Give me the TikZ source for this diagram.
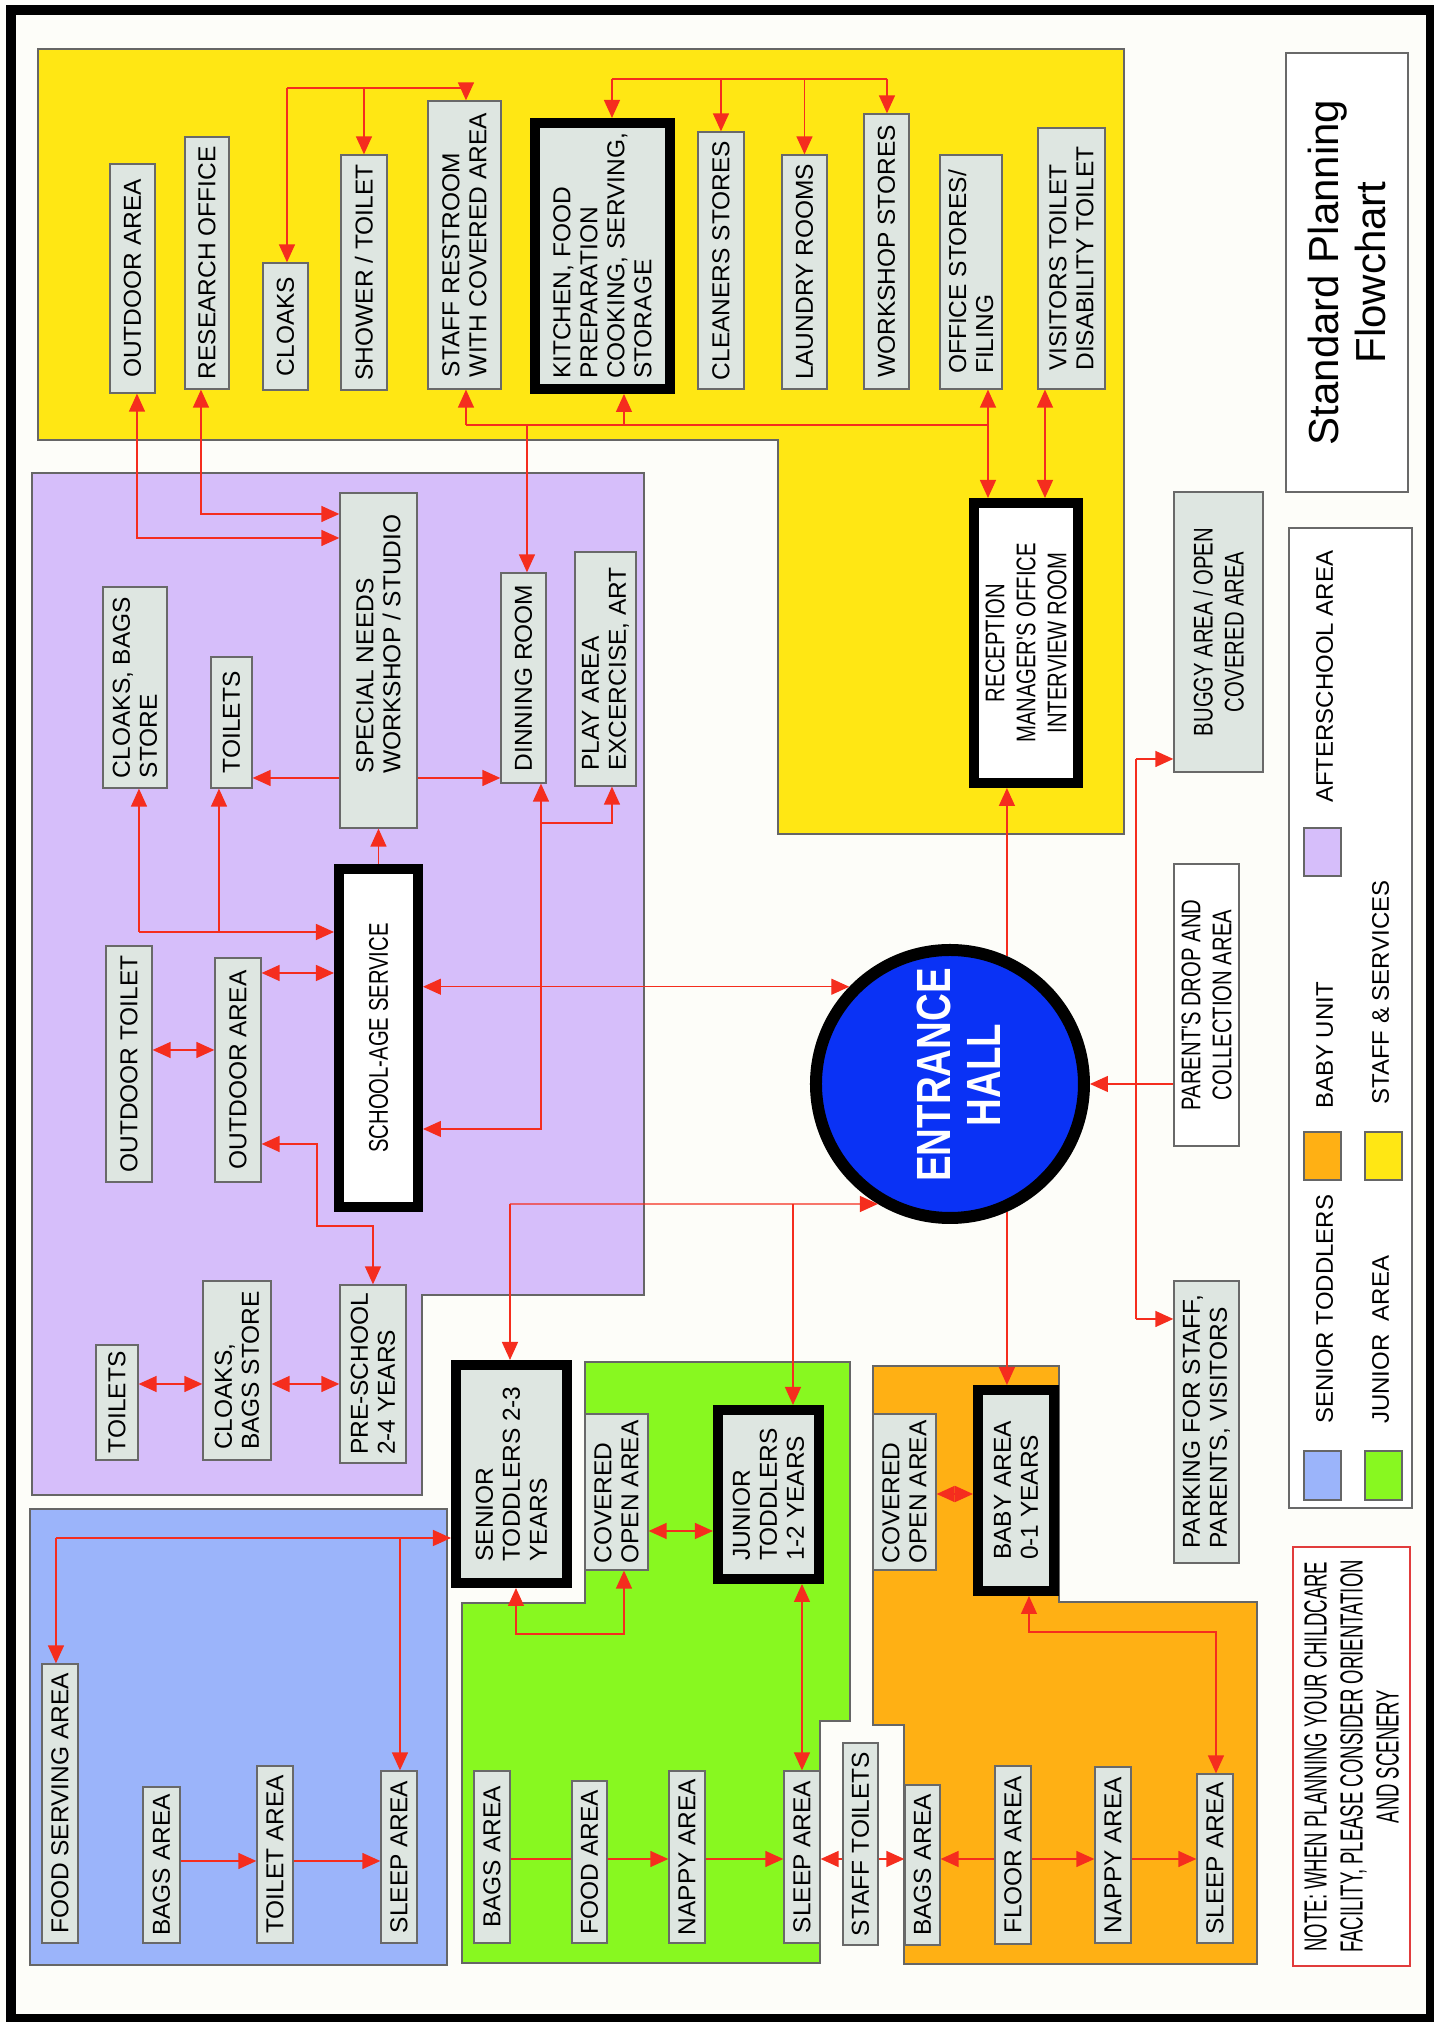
\documentclass[tikz,border=0pt]{standalone}
\usepackage{fontspec}
\setmainfont{Liberation Sans}
\newfontfamily\narrowfont[FakeStretch=0.75]{Liberation Sans}
\newfontfamily\hallfont[FakeStretch=0.8]{Liberation Sans}
\newfontfamily\notefont[FakeStretch=0.58]{Liberation Sans}
\usetikzlibrary{arrows.meta}
\definecolor{pagebg}{RGB}{253,253,249}
\definecolor{staffyel}{RGB}{255,231,20}
\definecolor{afterlil}{RGB}{214,190,250}
\definecolor{seniorblu}{RGB}{155,180,250}
\definecolor{juniorgrn}{RGB}{136,248,32}
\definecolor{babyorg}{RGB}{255,176,20}
\definecolor{roomgray}{RGB}{222,230,225}
\definecolor{hallblue}{RGB}{10,50,245}
\definecolor{linkred}{RGB}{245,45,30}
\definecolor{edgegray}{RGB}{105,105,105}
\definecolor{notered}{RGB}{225,60,60}
\newcommand{\roomfont}{\fontsize{24.5}{27}\selectfont}
\newcommand{\narrowtxt}{\narrowfont\fontsize{27}{31}\selectfont}
\tikzset{
  room/.style={draw=edgegray, fill=roomgray, line width=1.3, inner sep=0, align=left, font=\roomfont},
  hub/.style={room, draw=black, line width=10},
  sz/.style 2 args={minimum width=#1, minimum height=#2},
  zone/.style={draw=black!60, line width=1.1},
  lnk/.style={draw=linkred, line width=1.4},
  arr/.style={lnk, -{Triangle[length=18pt,width=16pt]}},
  arrs/.style={lnk, {Triangle[length=18pt,width=16pt]}-{Triangle[length=18pt,width=16pt]}},
  keytxt/.style={anchor=base west, inner sep=0, font=\fontsize{24}{27}\selectfont}
}
\begin{document}
\begin{tikzpicture}[x=1pt, y=1pt, rotate=90, transform shape]
\useasboundingbox (0,0) rectangle (2022,1433);
\fill[pagebg] (0,0) rectangle (2022,1433);
\draw[line width=10] (3,2) rectangle (2012,1422);

\filldraw[zone, fill=staffyel] (1973,1395) -- (1973,309) -- (1188,309) -- (1188,655) -- (1582,655) -- (1582,1395) -- cycle;
\filldraw[zone, fill=afterlil] (1549,1401) -- (1549,789) -- (727,789) -- (727,1011) -- (527,1011) -- (527,1401) -- cycle;
\filldraw[zone, fill=seniorblu] (57,986) rectangle (513,1403);
\filldraw[zone, fill=juniorgrn] (660,848) -- (660,583) -- (301,583) -- (301,613) -- (59,613) -- (59,971) -- (419,971) -- (419,848) -- cycle;
\filldraw[zone, fill=babyorg] (656,560) -- (656,374) -- (420,374) -- (420,176) -- (58,176) -- (58,529) -- (297,529) -- (297,560) -- cycle;

\node[room, sz={229}{45}] (oaY) at (1743.5,1300.5) {OUTDOOR AREA};
\node[room, sz={252}{44}] (res) at (1759,1226) {RESEARCH OFFICE};
\node[room, sz={127}{45}] (clk) at (1695.5,1147.5) {CLOAKS};
\node[room, sz={235}{46}] (shw) at (1749.5,1069) {SHOWER / TOILET};
\node[room, sz={288}{73}] (srr) at (1777,968.5) {STAFF RESTROOM\\WITH COVERED AREA};
\node[hub, sz={266}{135}] (kit) at (1766,830.5) {KITCHEN, FOOD\\PREPARATION\\COOKING, SERVING,\\STORAGE};
\node[room, sz={257}{46}] (cln) at (1761.5,712) {CLEANERS STORES};
\node[room, sz={234}{45}] (lau) at (1750,628.5) {LAUNDRY ROOMS};
\node[room, sz={275}{45}] (wks) at (1770.5,546.5) {WORKSHOP STORES};
\node[room, sz={234}{62}] (ofs) at (1750,462) {OFFICE STORES/\\FILING};
\node[room, sz={261}{67}] (vis) at (1763.5,361.5) {VISITORS TOILET\\DISABILITY TOILET};
\node[hub, fill=white, align=center, font=\narrowtxt, sz={280}{104}] (rec) at (1379,407) {RECEPTION\\MANAGER'S OFFICE\\INTERVIEW ROOM};

\node[room, sz={201}{64}] (pcb) at (1334.5,1298) {CLOAKS, BAGS\\STORE};
\node[room, sz={131}{41}] (ptl) at (1299.5,1201.5) {TOILETS};
\node[room, sz={335}{77}] (spn) at (1361.5,1054.5) {\hspace*{33pt}SPECIAL NEEDS\\\hspace*{33pt}WORKSHOP / STUDIO};
\node[room, sz={210}{45}] (din) at (1344,909.5) {DINNING ROOM};
\node[room, sz={234}{61}] (ply) at (1353,827.5) {PLAY AREA\\EXCERCISE, ART};
\node[hub, fill=white, font=\narrowtxt, sz={338}{79}] (sas) at (984,1054.5) {SCHOOL-AGE SERVICE};
\node[room, sz={236}{46}] (otl) at (958,1304) {OUTDOOR TOILET};
\node[room, sz={224}{46}] (oaP) at (952,1195) {OUTDOOR AREA};
\node[room, sz={115}{42}] (ltl) at (619.5,1316) {TOILETS};
\node[room, sz={179}{68}] (lcb) at (651.5,1196) {CLOAKS,\\BAGS STORE};
\node[room, sz={178}{66}] (pre) at (648,1060) {PRE-SCHOOL\\2-4 YEARS};

\node[room, sz={279}{36}] (fsa) at (218.5,1373) {FOOD SERVING AREA};
\node[room, sz={156}{37}] (bBg) at (157,1271.5) {BAGS AREA};
\node[room, sz={177}{36}] (bTl) at (167.5,1158) {TOILET AREA};
\node[room, sz={172}{36}] (bSl) at (165,1034) {SLEEP AREA};
\node[hub, sz={218}{111}] (sen) at (548,921.5) {SENIOR\\TODDLERS 2-3\\YEARS};

\node[room, sz={156}{63}] (gCv) at (530,816.5) {COVERED\\OPEN AREA};
\node[hub, sz={169}{101}] (jun) at (527.5,664.5) {JUNIOR\\TODDLERS\\1-2 YEARS};
\node[room, sz={172}{36}] (gBg) at (165,941) {BAGS AREA};
\node[room, sz={162}{35}] (gFd) at (160,843.5) {FOOD AREA};
\node[room, sz={172}{36}] (gNp) at (165,746) {NAPPY AREA};
\node[room, sz={172}{36}] (gSl) at (165,631) {SLEEP AREA};
\node[room, sz={202}{35}] (stt) at (178,572.5) {STAFF TOILETS};

\node[room, sz={156}{63}] (oCv) at (530,528.5) {COVERED\\OPEN AREA};
\node[hub, sz={201}{76}] (bab) at (531.5,417) {BABY AREA\\0-1 YEARS};
\node[room, sz={160}{35}] (oBg) at (157,510.5) {BAGS AREA};
\node[room, sz={178}{36}] (oFl) at (167,420) {FLOOR AREA};
\node[room, sz={176}{36}] (oNp) at (167,320) {NAPPY AREA};
\node[room, sz={169}{36}] (oSl) at (163.5,218) {SLEEP AREA};

\node[circle, fill=hallblue, draw=black, line width=12, minimum size=268, inner sep=0, text=white, align=center, font=\hallfont\bfseries\fontsize{48}{50}\selectfont] (ent) at (938,483) {\rule{0pt}{51pt}\hspace*{18pt}ENTRANCE\\\hspace*{18pt}HALL};

\node[room, align=center, font=\narrowtxt, sz={280}{89}] (bug) at (1390,214.5) {BUGGY AREA / OPEN\\COVERED AREA};
\node[room, fill=white, align=center, font=\narrowtxt, sz={282}{65}] (pdr) at (1017,226.5) {PARENT'S DROP AND\\COLLECTION AREA};
\node[room, sz={282}{65}] (prk) at (600,226.5) {PARKING FOR STAFF,\\PARENTS, VISITORS};

\node[draw=edgegray, fill=white, line width=1.5, align=center, font=\fontsize{42}{47}\selectfont, sz={439}{122}] (ttl) at (1749.5,86) {Standard Planning\\Flowchart};
\node[draw=notered, fill=white, line width=1.5, align=center, font=\notefont\fontsize{32}{36}\selectfont, sz={419}{117}] (note) at (265.5,81.5) {NOTE: WHEN PLANNING YOUR CHILDCARE\\FACILITY, PLEASE CONSIDER ORIENTATION\\AND SCENERY};

\node[draw=edgegray, fill=white, line width=1.5, sz={980}{123}] (leg) at (1004,82.5) {};
\filldraw[draw=black!60, line width=1.2, fill=seniorblu] (522,92) rectangle (571,129);
\filldraw[draw=black!60, line width=1.2, fill=juniorgrn] (522,31) rectangle (571,68);
\filldraw[draw=black!60, line width=1.2, fill=babyorg] (842,92) rectangle (890,129);
\filldraw[draw=black!60, line width=1.2, fill=staffyel] (842,31) rectangle (890,68);
\filldraw[draw=black!60, line width=1.2, fill=afterlil] (1146,92) rectangle (1194,129);
\node[keytxt] (kSen) at (598,100) {SENIOR TODDLERS};
\node[keytxt] (kJun) at (598,44) {JUNIOR\ \ AREA};
\node[keytxt] (kBab) at (913,100) {BABY UNIT};
\node[keytxt] (kStf) at (917,44) {STAFF \& SERVICES};
\node[keytxt] (kAft) at (1219,100) {AFTERSCHOOL AREA};

\coordinate (ta) at (1934,1146);
\coordinate (tb) at (1934,967);
\draw[lnk] (ta) to (tb);
\draw[arr] (ta) to (clk.east |- ta);
\draw[arr] (ta |- shw) to (shw.east);
\draw[arr] (tb) to (srr.east |- tb);
\coordinate (tc) at (1943,821);
\coordinate (td) at (1943,546);
\draw[lnk] (tc) to (td);
\draw[arr] (tc) to (kit.east |- tc);
\draw[arr] (tc |- cln) to (cln.east);
\draw[arr] (tc |- lau) to (lau.east);
\draw[arr] (td) to (wks.east |- td);

\coordinate (ya) at (1597,967);
\coordinate (yb) at (1597,445);
\coordinate (yk) at (1597,809);
\coordinate (yd) at (1597,906);
\coordinate (yv) at (1580,388);
\draw[lnk] (ya) to (yb);
\draw[arr] (ya) to (srr.west |- ya);
\draw[arr] (yk) to (kit.west |- yk);
\draw[arr] (yd) to (din.east |- yd);
\draw[arrs] (ofs.west |- yb) to (rec.east |- yb);
\draw[arrs] (vis.west |- yv) to (rec.east |- yv);

\coordinate (sa) at (1484,1296);
\coordinate (sb) at (1508,1232);
\draw[arrs] (oaY.west |- sa) -- (sa) -- (sa |- spn.north);
\draw[arrs] (res.west |- sb) -- (sb) -- (sb |- spn.north);
\coordinate (sc) at (1244,1100);
\draw[arr] (sc |- spn.north) to (sc |- ptl.south);
\draw[arr] (sc |- spn.south) to (sc |- din.north);
\draw[arr] (sas.east) to (spn.west);
\coordinate (sd) at (1090,1294);
\coordinate (se) at (1090,1214);
\draw[arr] (sd) to (sd |- sas.north);
\draw[arr] (sd) to (pcb.west |- sd);
\draw[arr] (se) to (ptl.west |- se);
\coordinate (sf) at (1049,1140);
\draw[arrs] (sf |- oaP.south) to (sf |- sas.north);
\coordinate (sg) at (972,1250);
\draw[arrs] (sg |- otl.south) to (sg |- oaP.north);
\coordinate (sh) at (878,1116);
\coordinate (si) at (796,1116);
\draw[arrs] (sh |- oaP.south) -- (sh) -- (si) -- (si |- pre.east) -- (pre.east);
\draw[arrs] (ent.46 |- sas.south) to (ent.46);
\coordinate (sj) at (893,892);
\coordinate (sk) at (1199,892);
\coordinate (sl) at (1199,821);
\draw[arrs] (sj |- sas.south) -- (sj) -- (din.west |- sj);
\draw[arr] (sk) -- (sl) -- (ply.west |- sl);
\coordinate (sm) at (638,1260);
\draw[arrs] (sm |- ltl.south) to (sm |- lcb.north);
\draw[arrs] (sm |- lcb.south) to (sm |- pre.north);

\coordinate (ea) at (818,923);
\coordinate (eb) at (818,640);
\draw[arr] (ea) to (ent.149);
\draw[arr] (ea) to (sen.east |- ea);
\draw[arr] (eb) to (jun.east |- eb);
\draw[arr] (ent.204) to (bab.east |- ent.204);
\draw[arr] (ent.336) to (rec.west |- ent.336);
\draw[arr] (ent |- pdr.north) to (ent.south);
\coordinate (pa) at (1263,297);
\coordinate (pb) at (703,297);
\draw[lnk] (pa) to (pb);
\draw[arr] (pa) to (pa |- bug.north);
\draw[arr] (pb) to (pb |- prk.north);

\coordinate (ga) at (388,917);
\coordinate (gb) at (388,809);
\draw[arrs] (sen.west |- ga) -- (ga) -- (gb) -- (gCv.west |- gb);
\coordinate (gc) at (491,750);
\draw[arrs] (gc |- gCv.south) to (gc |- jun.north);
\draw[arrs] (jun.west |- gSl) to (gSl.east);
\coordinate (gd) at (163,800);
\draw[lnk] (gd |- gBg.south) to (gd |- gFd.north);
\draw[arr] (gd |- gFd.south) to (gd |- gNp.north);
\draw[arr] (gd |- gNp.south) to (gd |- gSl.north);
\draw[arr] (gd |- stt.north) to (gd |- gSl.south);
\draw[arr] (gd |- stt.south) to (gd |- oBg.north);
\draw[arr] (gd |- oFl.north) to (gd |- oBg.south);
\draw[arr] (gd |- oFl.south) to (gd |- oNp.north);
\draw[arr] (gd |- oNp.south) to (gd |- oSl.north);
\coordinate (oa) at (390,404);
\coordinate (ob) at (390,217);
\draw[arrs] (bab.west |- oa) -- (oa) -- (ob) -- (oSl.east |- ob);
\coordinate (oc) at (528,480);
\draw[arrs] (oc |- oCv.south) to (oc |- bab.north);

\coordinate (ba) at (484,1377);
\coordinate (bb) at (484,1033);
\draw[arr] (ba) to (ba |- sen.north);
\draw[arr] (ba) to (fsa.east |- ba);
\draw[arr] (bb) to (bSl.east |- bb);
\coordinate (bc) at (161,1200);
\draw[arr] (bc |- bBg.south) to (bc |- bTl.north);
\draw[arr] (bc |- bTl.south) to (bc |- bSl.north);
\end{tikzpicture}
\end{document}
